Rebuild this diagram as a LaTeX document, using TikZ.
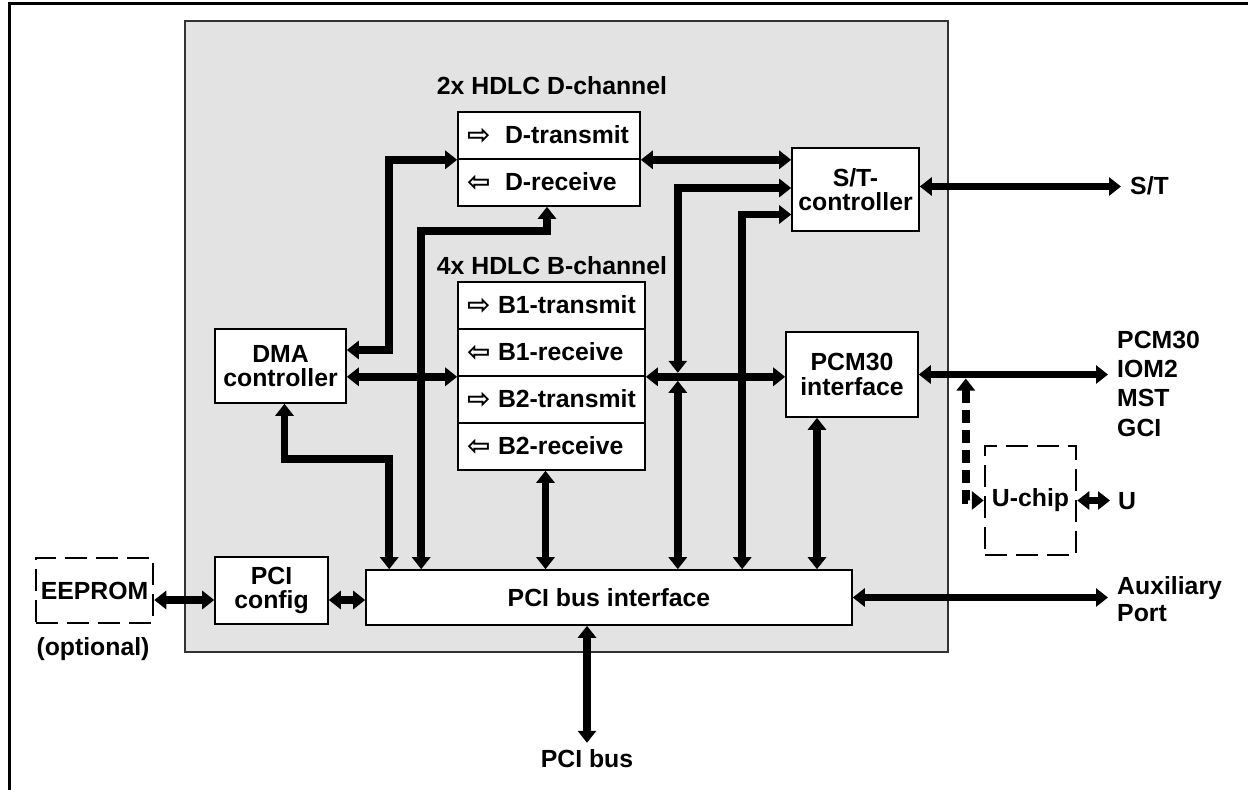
\documentclass[tikz,border=0pt]{standalone}
\usepackage{fontspec}
\setmainfont{Liberation Sans}
\newfontfamily\djvfont{DejaVu Sans}
\usetikzlibrary{arrows.meta,calc}
\newcommand{\rarr}{{\djvfont\fontsize{28}{28}\selectfont\raisebox{-1pt}{⇨}}}
\newcommand{\larr}{{\djvfont\fontsize{28}{28}\selectfont\raisebox{-1pt}{⇦}}}
\begin{document}
\begin{tikzpicture}[x=1pt,y=-1pt,
  txt/.style={font=\fontsize{24.8}{24.5}\selectfont\bfseries},
  lbl/.style={txt, inner sep=0pt},
  box/.style={txt, draw, line width=1.6pt, fill=white, align=center, inner sep=0pt},
  rowbox/.style={box, align=left, inner xsep=9pt, inner ysep=0pt, minimum height=47pt},
  dbox/.style={txt, draw, line width=2.5pt, dash pattern=on 22pt off 9pt, inner sep=0pt},
  chip/.style={draw=black!80, line width=2pt, fill=black!11},
  conn/.style={line width=7.5pt},
  bi/.style={{Triangle[length=12pt,width=18pt]}-{Triangle[length=12pt,width=18pt]}},
]
\useasboundingbox (0,0) rectangle (1248,790);
% outer frame (cropped)
\draw[line width=3pt] (9,792) -- (9,3.5) -- (1250,3.5);
% chip area
\node[chip, minimum width=763pt, minimum height=631pt] (chip) at (566.5,336.5) {};

% titles
\node[lbl] (tD) at (552,86) {2x HDLC D-channel};
\node[lbl] (tB) at (552,266) {4x HDLC B-channel};

% D channel
\node[rowbox, text width=164pt] (dtx) at (549,135.5) {\makebox[38pt][l]{\rarr}D-transmit};
\node[rowbox, text width=164pt] (drx) at (549,182.5) {\makebox[38pt][l]{\larr}D-receive};
% B channel
\node[rowbox, text width=169pt] (b1t) at (551.5,305.5) {\makebox[31pt][l]{\rarr}B1-transmit};
\node[rowbox, text width=169pt] (b1r) at (551.5,352.5) {\makebox[31pt][l]{\larr}B1-receive};
\node[rowbox, text width=169pt] (b2t) at (551.5,399.5) {\makebox[31pt][l]{\rarr}B2-transmit};
\node[rowbox, text width=169pt] (b2r) at (551.5,446.5) {\makebox[31pt][l]{\larr}B2-receive};

% blocks
\node[box, minimum width=131pt, minimum height=74pt] (dma) at (280.5,366) {DMA\\controller};
\node[box, minimum width=127pt, minimum height=83pt] (stc) at (855.5,189.5) {S/T-\\controller};
\node[box, minimum width=132pt, minimum height=85pt] (pcm) at (852,374.5) {PCM30\\interface};
\node[box, minimum width=113pt, minimum height=67pt] (pcfg) at (271.5,590.5) {PCI\\config};
\node[box, minimum width=486pt, minimum height=55pt] (pcib) at (609,597.5) {PCI bus interface};
\node[dbox, minimum width=117pt, minimum height=65pt] (eeprom) at (94.5,590.5) {EEPROM};
\node[dbox, minimum width=91pt, minimum height=109pt] (uchip) at (1030.5,500.5) {U-chip};

% outside labels
\node[lbl, anchor=base] (opt) at (93,655) {(optional)};
\node[lbl, anchor=base] (pcibus) at (587,767) {PCI bus};
\node[lbl, anchor=base west] (stlab) at (1130,194) {S/T};
\node[lbl, anchor=base west] (pcm1) at (1117,348) {PCM30};
\node[lbl, anchor=base west] (iom) at (1117,377) {IOM2};
\node[lbl, anchor=base west] (mst) at (1117,406.5) {MST};
\node[lbl, anchor=base west] (gci) at (1117,436) {GCI};
\node[lbl, anchor=base west] (ulab) at (1118,509) {U};
\node[lbl, anchor=base west] (aux1) at (1117,594) {Auxiliary};
\node[lbl, anchor=base west] (aux2) at (1117,621) {Port};

% connectors
\coordinate (j1) at ($(dma.east)+(0,-16)$);
\draw[conn,bi] (j1) -- ($(j1)+(42,0)$) |- (dtx.south west);
\draw[conn,bi] (dma.east |- b1r.south west) -- (b1r.south west);
\draw[conn,bi] ($(pcib.north west)+(56,0)$) -- ++(0,-338) -| ($(drx.south)+(-2,0)$);
\draw[conn,bi] ($(dma.south)+(4,0)$) |- ($(pcib.north west)+(24,-110)$) -- ($(pcib.north west)+(24,0)$);
\coordinate (c5) at ($(b2r.south)+(-6,0)$);
\draw[conn,bi] (c5) -- (c5 |- pcib.north);
\draw[conn,bi] (b1r.south east) -- (b1r.south east -| pcm.west);
\coordinate (jt) at ($(b1r.south east)+(32,-4)$);
\coordinate (jb) at ($(b1r.south east)+(32,4)$);
\draw[conn,bi] ($(stc.west)+(0,-1.5)$) -| (jt);
\draw[conn,bi] (jb) -- (jb |- pcib.north);
\draw[conn,bi] ($(stc.west)+(0,25)$) -| ($(pcib.north west)+(377,0)$);
\draw[conn,bi] (dtx.south east) -- (dtx.south east -| stc.west);
\coordinate (c9) at ($(pcm.south)+(-35,0)$);
\draw[conn,bi] (c9) -- (c9 |- pcib.north);
\draw[conn,bi] ($(stc.east)+(0,-3)$) -- ($(stc.east -| stlab.west)+(-9,-3)$);
\draw[conn,bi] (pcm.east) -- ($(pcm.east -| iom.west)+(-9,0)$);
\coordinate (dj) at ($(pcm.east)+(47,4)$);
\draw[conn,dash pattern=on 13pt off 7pt,bi] (dj) |- (uchip.west);
\draw[conn,bi] (uchip.east) -- ($(uchip.east -| ulab.west)+(-8,0)$);
\coordinate (c14) at ($(pcfg.west)+(0,9.5)$);
\draw[conn,bi] (eeprom.east |- c14) -- (c14);
\draw[conn,bi] (pcfg.east |- c14) -- (pcib.west |- c14);
\draw[conn,bi] (pcib.east) -- ($(pcib.east -| aux1.west)+(-9,0)$);
\coordinate (c17) at ($(pcib.south)+(-22,0)$);
\draw[conn,bi] (c17) -- ++(0,117);
\end{tikzpicture}
\end{document}
